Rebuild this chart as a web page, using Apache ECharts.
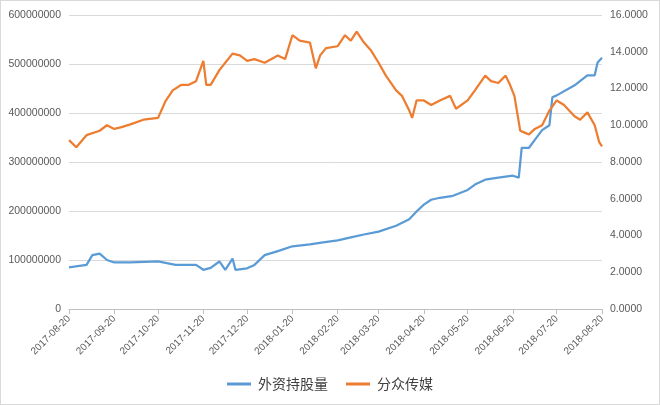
<!DOCTYPE html>
<html><head><meta charset="utf-8">
<script src="https://cdn.jsdelivr.net/npm/echarts@6/dist/echarts.min.js"></script>
<style>html,body{margin:0;padding:0;background:#fff}#c{width:658px;height:403px;border:1px solid #d9d9d9}</style>
</head><body><div id="c"></div>
<script>
// 外资持股量 (股)
var holdDates = ['2017-08-20','2017-09-01','2017-09-05','2017-09-10','2017-09-15','2017-09-20','2017-10-01','2017-10-20','2017-11-01','2017-11-15','2017-11-20','2017-11-25','2017-12-01','2017-12-05','2017-12-10','2017-12-12','2017-12-20','2017-12-25','2018-01-01','2018-01-10','2018-01-20','2018-02-01','2018-02-10','2018-02-20','2018-03-01','2018-03-10','2018-03-20','2018-04-01','2018-04-10','2018-04-15','2018-04-20','2018-04-25','2018-05-01','2018-05-10','2018-05-20','2018-05-25','2018-06-01','2018-06-10','2018-06-20','2018-06-24','2018-06-26','2018-07-01','2018-07-05','2018-07-10','2018-07-15','2018-07-17','2018-07-20','2018-08-01','2018-08-10','2018-08-15','2018-08-17','2018-08-20'];
var holdValues = [85,90,110,113,100,95,95,97,90,90,80,84,97,80,103,80,83,90,110,118,128,132,136,140,146,152,158,170,183,199,213,223,227,231,243,254,264,268,272,268,329,329,345,365,375,432,436,456,477,477,503,513];
// 分众传媒 股价
var priceDates = ['2017-08-20','2017-08-25','2017-09-01','2017-09-10','2017-09-15','2017-09-20','2017-09-25','2017-10-01','2017-10-10','2017-10-20','2017-10-25','2017-10-30','2017-11-05','2017-11-10','2017-11-15','2017-11-20','2017-11-22','2017-11-25','2017-12-01','2017-12-05','2017-12-10','2017-12-15','2017-12-20','2017-12-25','2018-01-01','2018-01-10','2018-01-15','2018-01-20','2018-01-25','2018-02-01','2018-02-05','2018-02-08','2018-02-12','2018-02-20','2018-02-25','2018-03-01','2018-03-05','2018-03-10','2018-03-15','2018-03-20','2018-03-25','2018-04-01','2018-04-05','2018-04-10','2018-04-12','2018-04-15','2018-04-20','2018-04-25','2018-05-01','2018-05-08','2018-05-12','2018-05-20','2018-05-25','2018-06-01','2018-06-05','2018-06-10','2018-06-15','2018-06-18','2018-06-21','2018-06-25','2018-06-28','2018-07-01','2018-07-05','2018-07-10','2018-07-15','2018-07-20','2018-07-25','2018-08-01','2018-08-05','2018-08-10','2018-08-15','2018-08-18','2018-08-20'];
var priceValues = [9.19,8.8,9.46,9.7,10.0,9.8,9.9,10.05,10.3,10.4,11.3,11.9,12.2,12.2,12.4,13.5,12.2,12.2,13.0,13.4,13.9,13.8,13.5,13.6,13.4,13.8,13.6,14.9,14.6,14.5,13.1,13.8,14.2,14.3,14.9,14.6,15.1,14.5,14.05,13.4,12.7,11.9,11.6,10.8,10.4,11.35,11.35,11.1,11.35,11.6,10.9,11.35,11.9,12.7,12.4,12.3,12.7,12.2,11.6,9.7,9.6,9.5,9.8,10.0,10.8,11.35,11.1,10.5,10.3,10.7,10.0,9.1,8.85];

var days = [];
for (var t = Date.UTC(2017,7,20); t <= Date.UTC(2018,7,20); t += 86400000) {
  days.push(new Date(t).toISOString().slice(0,10));
}
function pairs(d, v, k) { return d.map(function (x, i) { return [x, v[i] * k]; }); }
var onTwenty = function (i, v) { return v.slice(8) === '20'; };

var chart = echarts.init(document.getElementById('c'));
chart.setOption({
  animation: false,
  grid: {left: 68, right: 57, top: 14, bottom: 95},
  legend: {bottom: 8, itemGap: 18, icon: 'path://M0,0H20V2.5H0Z', itemWidth: 28, itemHeight: 3,
    textStyle: {fontSize: 14, color: '#404040', fontFamily: 'Noto Sans CJK SC'},
    data: ['外资持股量', '分众传媒']},
  xAxis: {type: 'category', data: days, boundaryGap: false,
    axisLine: {lineStyle: {color: '#bfbfbf'}},
    axisTick: {show: true, interval: onTwenty, lineStyle: {color: '#bfbfbf'}},
    axisLabel: {interval: onTwenty, rotate: 45, fontSize: 10, color: '#595959'}},
  yAxis: [
    {type: 'value', min: 0, max: 600000000, interval: 100000000,
      axisLabel: {fontSize: 10.5, color: '#595959', formatter: function (v) { return String(v); }},
      splitLine: {lineStyle: {color: '#d9d9d9'}}},
    {type: 'value', min: 0, max: 16, interval: 2,
      axisLabel: {fontSize: 10.5, color: '#595959', formatter: function (v) { return v.toFixed(4); }},
      splitLine: {show: false}}
  ],
  series: [
    {name: '外资持股量', type: 'line', yAxisIndex: 0, showSymbol: false,
      data: pairs(holdDates, holdValues, 1e6), lineStyle: {width: 2.25, color: '#5b9bd5'}, itemStyle: {color: '#5b9bd5'}},
    {name: '分众传媒', type: 'line', yAxisIndex: 1, showSymbol: false,
      data: pairs(priceDates, priceValues, 1), lineStyle: {width: 2.25, color: '#ed7d31'}, itemStyle: {color: '#ed7d31'}}
  ]
});
</script></body></html>
